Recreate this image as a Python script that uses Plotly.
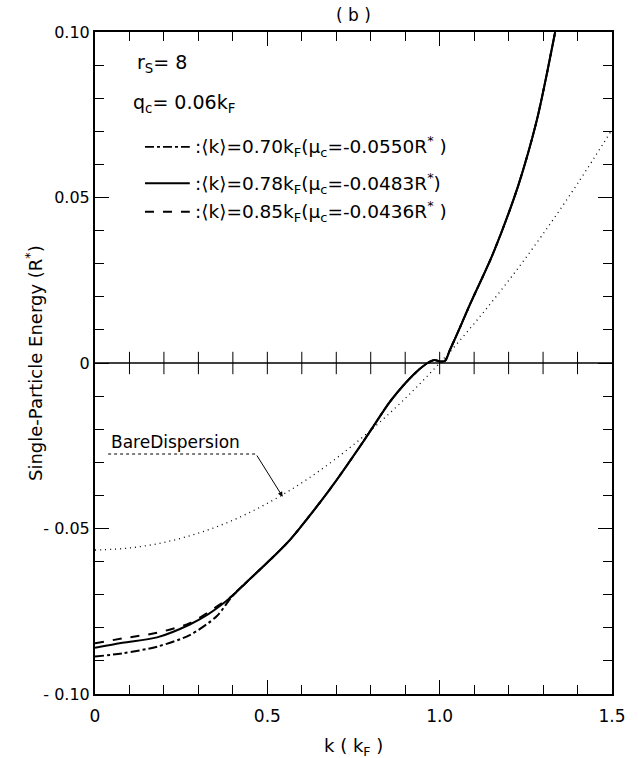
import plotly.graph_objects as go

# ---- data ----
k_low_dd = [0.0, 0.08, 0.18, 0.275, 0.353]
e_low_dd = [-0.0887, -0.0877, -0.0857, -0.0822, -0.0765]   # <k>=0.70 kF
k_low_so = [0.0, 0.08, 0.18, 0.275, 0.33, 0.38]
e_low_so = [-0.0860, -0.0845, -0.0829, -0.0790, -0.0758, -0.0720]   # <k>=0.78 kF
k_low_da = [0.0, 0.08, 0.18, 0.275, 0.33, 0.38]
e_low_da = [-0.0847, -0.0832, -0.0815, -0.0786, -0.0752, -0.0717]   # <k>=0.85 kF

k_common = [0.40, 0.45, 0.5, 0.565, 0.65, 0.7, 0.778, 0.855, 0.903, 0.94, 0.965,
            0.985, 1.0, 1.015, 1.03, 1.06, 1.087, 1.155, 1.227, 1.282, 1.335]
e_common = [-0.0702, -0.0652, -0.0603, -0.0535, -0.0425, -0.0355, -0.0238, -0.0118,
            -0.0058, -0.0020, 0.0000, 0.0009, 0.0005, 0.0006, 0.0040, 0.0110, 0.0175,
            0.0331, 0.0533, 0.0734, 0.1000]

k_bare = [0.0, 0.1, 0.2, 0.3, 0.4, 0.5, 0.6, 0.7, 0.8, 0.9, 1.0, 1.1, 1.2, 1.3, 1.4, 1.5]
e_bare = [-0.0565, -0.0559, -0.0542, -0.0514, -0.0475, -0.0424, -0.0362, -0.0288,
          -0.0203, -0.0107, 0.0, 0.0119, 0.0249, 0.0390, 0.0542, 0.0705]

zero_ticks_k = [0.1, 0.2, 0.3, 0.4, 0.5, 0.6, 0.7, 0.8, 0.9, 1.0, 1.1, 1.2, 1.3, 1.4]

legend_labels = [
    ":⟨k⟩=0.70k<sub>F</sub>(μ<sub>c</sub>=-0.0550R<sup>*</sup> )",
    ":⟨k⟩=0.78k<sub>F</sub>(μ<sub>c</sub>=-0.0483R<sup>*</sup>)",
    ":⟨k⟩=0.85k<sub>F</sub>(μ<sub>c</sub>=-0.0436R<sup>*</sup> )",
]
legend_dashes = ["dashdot", "solid", "dash"]

FONT = "DejaVu Sans"
fig = go.Figure()

# bare dispersion
fig.add_trace(go.Scatter(x=k_bare, y=e_bare, mode="lines", line_shape="spline",
                         line=dict(color="black", width=1.3, dash="1px,4px"),
                         showlegend=False))

# three curves
for kl, el, dash in [(k_low_dd, e_low_dd, "dashdot"), (k_low_so, e_low_so, "solid"),
                     (k_low_da, e_low_da, "dash")]:
    fig.add_trace(go.Scatter(x=kl + k_common, y=el + e_common, mode="lines",
                             line_shape="spline", line_smoothing=0.8,
                             line=dict(color="black", width=2, dash=dash),
                             showlegend=False))

# cross ticks on zero line
fig.add_shape(type="line", xref="paper", x0=0, x1=1, yref="y", y0=0, y1=0,
              line=dict(color="black", width=1.5))
fig.add_trace(go.Scatter(x=zero_ticks_k, y=[0] * len(zero_ticks_k), mode="markers",
                         marker=dict(symbol="line-ns", size=16,
                                     line=dict(color="black", width=1)),
                         showlegend=False, hoverinfo="skip"))

# texts
fig.add_annotation(x=0.115, y=0.0905, xref="x", yref="y", text="r<sub>S</sub>= 8",
                   showarrow=False, xanchor="left", font=dict(size=19))
fig.add_annotation(x=0.105, y=0.0785, xref="x", yref="y", text="q<sub>c</sub>= 0.06k<sub>F</sub>",
                   showarrow=False, xanchor="left", font=dict(size=19))
leg_y = [0.0653, 0.0543, 0.0457]
for lab, dash, yy in zip(legend_labels, legend_dashes, leg_y):
    fig.add_shape(type="line", xref="x", yref="y", x0=0.145, x1=0.275, y0=yy, y1=yy,
                  line=dict(color="black", width=1.8, dash=dash))
    fig.add_annotation(x=0.285, y=yy, xref="x", yref="y", text=lab, showarrow=False,
                       xanchor="left", yanchor="middle", font=dict(size=18.5))

# bare dispersion label with leader
fig.add_annotation(x=0.04, y=-0.0238, xref="x", yref="y", text="BareDispersion",
                   showarrow=False, xanchor="left", yanchor="middle", font=dict(size=17))
fig.add_shape(type="line", xref="x", yref="y", x0=0.038, x1=0.467, y0=-0.0275, y1=-0.0275,
              line=dict(color="black", width=1, dash="dot"))
fig.add_annotation(x=0.5445, y=-0.0404, ax=0.467, ay=-0.0275, xref="x", yref="y",
                   axref="x", ayref="y", text="", showarrow=True, arrowhead=2,
                   arrowsize=1, arrowwidth=1, arrowcolor="black")

fig.add_annotation(x=0.5, y=1.025, xref="paper", yref="paper", text="( b )",
                   showarrow=False, xanchor="center", yanchor="middle", font=dict(size=17))
fig.add_annotation(x=0.5, y=-0.080, xref="paper", yref="paper",
                   text="k ( k<sub>F</sub> )", showarrow=False, xanchor="center",
                   yanchor="middle", font=dict(size=18))
fig.add_annotation(x=-0.118, y=0.5, xref="paper", yref="paper",
                   text="Single-Particle Energy (R<sup>*</sup>)", textangle=-90,
                   showarrow=False, xanchor="center", yanchor="middle", font=dict(size=18))

fig.update_xaxes(range=[0, 1.5], tickvals=[0, 0.5, 1.0, 1.5],
                 ticktext=["0", "0.5", "1.0", "1.5"],
                 ticks="inside", ticklen=14, tickwidth=1, tickcolor="black",
                 minor=dict(dtick=0.1, ticks="inside", ticklen=9, tickcolor="black", tickwidth=1),
                 showline=True, linecolor="black", linewidth=2, mirror="allticks",
                 showgrid=False, zeroline=False, tickfont=dict(size=17), ticklabelstandoff=6)
fig.update_yaxes(range=[-0.10, 0.10], tickvals=[-0.10, -0.05, 0, 0.05, 0.10],
                 ticktext=["- 0.10", "- 0.05", "0", "0.05", "0.10"],
                 ticks="inside", ticklen=14, tickwidth=1, tickcolor="black",
                 minor=dict(dtick=0.01, ticks="inside", ticklen=9, tickcolor="black", tickwidth=1),
                 showline=True, linecolor="black", linewidth=2, mirror="allticks",
                 showgrid=False, zeroline=False, tickfont=dict(size=16))

fig.update_layout(width=638, height=758, margin=dict(l=95, r=26, t=32, b=64),
                  plot_bgcolor="white", paper_bgcolor="white",
                  font=dict(family=FONT, color="black"), showlegend=False)

fig.write_html("out.html")
